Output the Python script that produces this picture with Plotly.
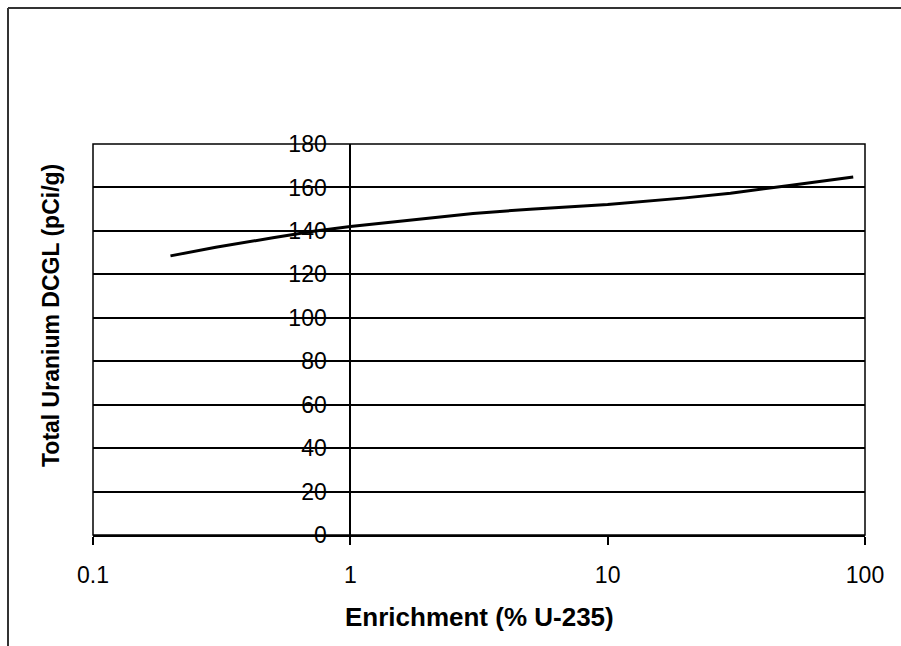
import plotly.graph_objects as go

# Data
enrichment = [0.2, 0.3, 0.5, 0.72, 1, 2, 3, 5, 10, 20, 30, 50, 70, 90]
dcgl = [128.5, 132.5, 136.8, 139.8, 142.0, 146.0, 148.0, 150.0, 152.2, 155.2, 157.3, 160.8, 163.2, 164.8]

x_ticks = [0.1, 1, 10, 100]
x_tick_text = ["0.1", "1", "10", "100"]
y_ticks = [0, 20, 40, 60, 80, 100, 120, 140, 160, 180]

x_title = "Enrichment (% U-235)"
y_title = "Total Uranium DCGL (pCi/g)"

FONT = "Liberation Sans, Arial, sans-serif"

fig = go.Figure()
fig.add_trace(go.Scatter(
    x=enrichment, y=dcgl, mode="lines",
    line=dict(color="black", width=3),
    showlegend=False, hoverinfo="skip",
))

fig.update_layout(
    width=901, height=646,
    margin=dict(l=93, r=36, t=144, b=111),
    paper_bgcolor="white", plot_bgcolor="white",
    font=dict(family=FONT, color="black"),
    xaxis=dict(
        type="log", range=[-1, 2],
        tickvals=x_ticks, ticktext=x_tick_text,
        ticks="outside", ticklen=8, tickwidth=1.5, tickcolor="black",
        tickfont=dict(size=23, family=FONT),
        ticklabelstandoff=10,
        showgrid=False, showline=True, linecolor="black", linewidth=2,
        zeroline=False,
    ),
    yaxis=dict(
        range=[0, 180], tickvals=y_ticks,
        anchor="free", position=1/3,
        ticks="", tickfont=dict(size=23, family=FONT),
        ticklabelstandoff=18,
        showgrid=True, gridcolor="black", gridwidth=1.5,
        showline=True, linecolor="black", linewidth=2,
        zeroline=False,
    ),
    annotations=[
        dict(text="<b>" + x_title + "</b>", xref="paper", yref="paper",
             x=0.5, y=(535 - 617) / 391, xanchor="center", yanchor="middle",
             showarrow=False, font=dict(size=26, family=FONT)),
        dict(text="<b>" + y_title + "</b>", xref="paper", yref="paper",
             x=(51 - 93) / 772, y=(535 - 316) / 391, xanchor="center", yanchor="middle",
             textangle=-90, showarrow=False, font=dict(size=23, family=FONT)),
    ],
    shapes=[
        # plot area border
        dict(type="rect", xref="paper", yref="paper", x0=0, y0=0, x1=1, y1=1,
             line=dict(color="black", width=1.5)),
        # outer frame (top and left edges of the page frame)
        dict(type="line", xref="paper", yref="paper",
             x0=(8 - 93) / 772, x1=(901 - 93) / 772, y0=(535 - 8) / 391, y1=(535 - 8) / 391,
             line=dict(color="#333333", width=2)),
        dict(type="line", xref="paper", yref="paper",
             x0=(8 - 93) / 772, x1=(8 - 93) / 772, y0=(535 - 8) / 391, y1=(535 - 646) / 391,
             line=dict(color="#333333", width=2)),
    ],
)

fig.write_html(
    "out.html",
    config={"displayModeBar": False},
    post_script="document.body.style.margin='0';document.body.style.overflow='hidden';",
)
